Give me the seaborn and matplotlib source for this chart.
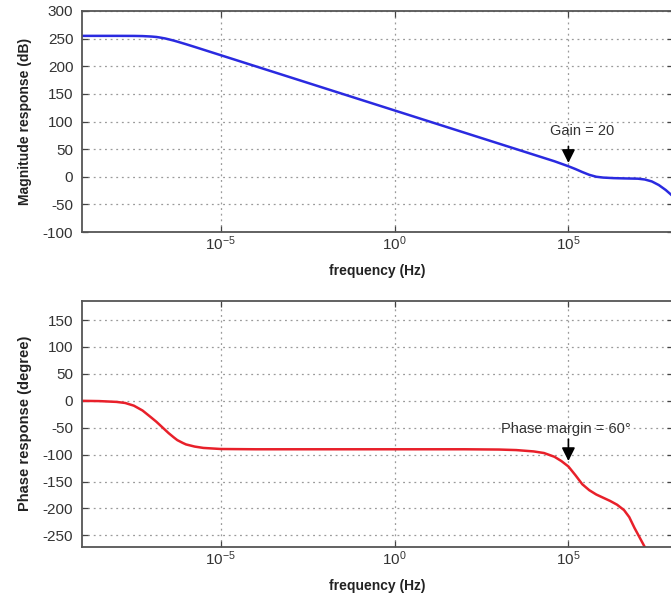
import numpy as np
import pandas as pd
import matplotlib
matplotlib.use("Agg")
import matplotlib.pyplot as plt
import seaborn as sns

# ---- data (log10 of frequency in Hz) ----
mag_logf = [-9.0, -8.5, -8.0, -7.5, -7.25, -7.0, -6.85, -6.75, -6.6, -6.5, -6.35,
            -6.25, -6.0, -5.75, -5.5, -5.0, -4.0, -3.0, -2.0, -1.0, 0.0, 1.0, 2.0,
            3.0, 4.0, 4.6, 5.0, 5.2, 5.4, 5.6, 5.8, 6.0, 6.3, 6.6, 7.0, 7.2, 7.4,
            7.6, 7.8, 8.0]
mag_db = [255.0, 255.0, 255.0, 254.9, 254.6, 253.8, 253.0, 252.0, 250.3, 248.8, 246.4,
          244.6, 239.9, 235.0, 230.0, 220.0, 200.0, 180.0, 160.0, 140.0, 120.0, 100.0, 80.0,
          60.0, 40.0, 28.0, 19.0, 14.0, 8.5, 3.5, 0.0, -1.5, -2.5, -3.0, -3.5, -5.0, -8.5,
          -15.0, -24.0, -35.0]

phase_logf = [-9.0, -8.5, -8.0, -7.75, -7.5, -7.25, -7.0, -6.85, -6.75, -6.6, -6.5,
              -6.35, -6.25, -6.1, -6.0, -5.75, -5.5, -5.0, -4.0, -2.0, 0.0, 2.0, 3.0,
              3.5, 4.0, 4.3, 4.6, 4.8, 5.0, 5.2, 5.4, 5.6, 5.8, 6.0, 6.2, 6.4, 6.6,
              6.75, 6.9, 7.05, 7.2]
phase_deg = [0.0, -0.5, -2.0, -4.0, -9.0, -18.0, -31.0, -39.0, -45.0, -54.0, -60.0,
             -68.0, -73.0, -78.0, -81.0, -85.0, -87.5, -89.5, -90.0, -90.0, -90.0, -90.0, -90.5,
             -91.5, -94.0, -97.0, -104.0, -112.0, -122.0, -138.0, -155.0, -166.0, -174.0, -180.0, -186.0, -193.0, -203.0,
             -216.0, -236.0, -254.0, -272.0]

mag_yticks = [300, 250, 200, 150, 100, 50, 0, -50, -100]
phase_yticks = [150, 100, 50, 0, -50, -100, -150, -200, -250]
x_tick_exps = [-5, 0, 5]
x_tick_labels = ["$10^{-5}$", "$10^{0}$", "$10^{5}$"]

mag_df = pd.DataFrame({"freq": np.power(10.0, mag_logf), "mag": mag_db})
ph_df = pd.DataFrame({"freq": np.power(10.0, phase_logf), "phase": phase_deg})

sns.set_style("ticks")
plt.rcParams["font.family"] = ["Liberation Sans", "DejaVu Sans"]
plt.rcParams["mathtext.default"] = "regular"
plt.rcParams["axes.unicode_minus"] = False

W, H = 671, 601
fig = plt.figure(figsize=(W / 100, H / 100), dpi=100)

left = 81.7 / W
width = 591.0 / W
ax1 = fig.add_axes([left, 1 - 232.0 / H, width, 221.0 / H])
ax2 = fig.add_axes([left, 1 - 546.7 / H, width, 246.0 / H])

sns.lineplot(data=mag_df, x="freq", y="mag", ax=ax1, color="#2a2ae0", lw=1.8)
sns.lineplot(data=ph_df, x="freq", y="phase", ax=ax2, color="#e8202a", lw=1.8)

spine_col = "#555555"
for ax, yt in ((ax1, mag_yticks), (ax2, phase_yticks)):
    ax.set_xscale("log")
    ax.set_xlim(1e-9, 1e8)
    ax.set_xticks([10.0 ** e for e in x_tick_exps])
    ax.set_xticklabels(x_tick_labels)
    ax.xaxis.set_minor_locator(matplotlib.ticker.NullLocator())
    ax.set_yticks(yt)
    ax.grid(True, which="major", linestyle=(0, (1.5, 3)), color="#9a9a9a", lw=0.9)
    ax.tick_params(direction="in", top=True, right=True, length=4, width=0.9,
                   color="#444444", labelsize=11, labelcolor="#333333")
    ax.tick_params(axis="y", pad=6)
    ax.tick_params(axis="x", pad=2)
    for s in ax.spines.values():
        s.set_visible(True)
        s.set_color(spine_col)
        s.set_linewidth(1.3)
    ax.set_xlabel("frequency (Hz)", fontsize=10, fontweight="bold", color="#222222", labelpad=8)

ax1.set_ylim(-100, 300)
ax2.set_ylim(-271, 186)
ax1.set_ylabel("Magnitude response (dB)", fontsize=10, fontweight="bold", color="#222222", labelpad=8)
ax2.set_ylabel("Phase response (degree)", fontsize=10.5, fontweight="bold", color="#222222", labelpad=8)

# annotations
ax1.text(10 ** 5.4, 83, "Gain = 20", ha="center", va="center", fontsize=10.5, color="#333333")
ax1.annotate("", xy=(1e5, 20), xytext=(1e5, 60),
             arrowprops=dict(arrowstyle="-|>", color="black", lw=1.2, mutation_scale=20))
ax2.text(10 ** 4.93, -52, "Phase margin = 60°", ha="center", va="center", fontsize=10.5, color="#333333")
ax2.annotate("", xy=(1e5, -117), xytext=(1e5, -66),
             arrowprops=dict(arrowstyle="-|>", color="black", lw=1.2, mutation_scale=20))

fig.savefig("out.png", dpi=100)
